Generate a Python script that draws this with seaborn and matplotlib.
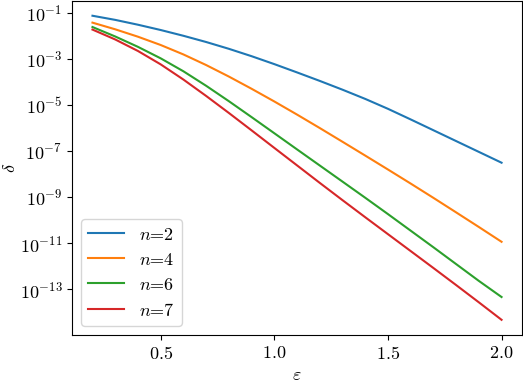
import numpy as np
import pandas as pd
import seaborn as sns
import matplotlib
matplotlib.use("Agg")
import matplotlib.pyplot as plt
from matplotlib.ticker import NullLocator

# Werte
eps = [0.2, 0.3, 0.4, 0.5, 0.6, 0.7, 0.8, 0.9, 1.0, 1.1,
       1.2, 1.3, 1.4, 1.5, 1.6, 1.7, 1.8, 1.9, 2.0]

delta_n2 = [7.41e-2, 4.90e-2, 3.02e-2, 1.78e-2, 1.00e-2, 5.37e-3, 2.72e-3, 1.30e-3, 5.89e-4, 2.57e-4,
            1.10e-4, 4.57e-5, 1.82e-5, 6.76e-6, 2.34e-6, 7.94e-7, 2.69e-7, 9.12e-8, 3.09e-8]
delta_n4 = [3.72e-2, 1.91e-2, 9.12e-3, 3.98e-3, 1.55e-3, 5.37e-4, 1.70e-4, 5.01e-5, 1.41e-5, 3.80e-6,
            9.89e-7, 2.51e-7, 6.31e-8, 1.57e-8, 3.85e-9, 9.23e-10, 2.16e-10, 5.01e-11, 1.14e-11]
delta_n6 = [2.40e-2, 9.33e-3, 3.31e-3, 1.05e-3, 2.88e-4, 6.76e-5, 1.45e-5, 2.95e-6, 5.89e-7, 1.17e-7,
            2.34e-8, 4.68e-9, 9.33e-10, 1.82e-10, 3.47e-11, 6.61e-12, 1.23e-12, 2.29e-13, 4.57e-14]
delta_n7 = [1.86e-2, 6.92e-3, 2.19e-3, 5.75e-4, 1.26e-4, 2.45e-5, 4.47e-6, 7.85e-7, 1.36e-7, 2.37e-8,
            4.12e-9, 7.33e-10, 1.33e-10, 2.45e-11, 4.52e-12, 8.32e-13, 1.51e-13, 2.69e-14, 4.68e-15]

labels = [r"$n$=2", r"$n$=4", r"$n$=6", r"$n$=7"]
series = [delta_n2, delta_n4, delta_n6, delta_n7]
colors = ["#1f77b4", "#ff7f0e", "#2ca02c", "#d62728"]
yticks = [1e-1, 1e-3, 1e-5, 1e-7, 1e-9, 1e-11, 1e-13]

df = pd.concat([pd.DataFrame({"eps": eps, "delta": s, "n": lab})
                for s, lab in zip(series, labels)], ignore_index=True)

# Schrift im LaTeX-Stil
plt.rcParams["font.family"] = "serif"
plt.rcParams["font.serif"] = ["cmr10"]
plt.rcParams["mathtext.fontset"] = "cm"
plt.rcParams["axes.formatter.use_mathtext"] = True
plt.rcParams["font.size"] = 13

fig = plt.figure(figsize=(5.23, 3.83), dpi=100)
ax = fig.add_axes([0.1377, 0.1253, 0.8604, 0.8733])

sns.lineplot(data=df, x="eps", y="delta", hue="n", palette=colors, linewidth=1.5, ax=ax)

ax.set_yscale("log")
ax.set_yticks(yticks)
ax.yaxis.set_minor_locator(NullLocator())
ax.set_xticks([0.5, 1.0, 1.5, 2.0])

ax.set_xlabel(r"$\varepsilon$")
ax.set_ylabel(r"$\delta$", labelpad=1)
ax.legend(loc="lower left", fontsize=13)

fig.savefig("out.png", dpi=100)
